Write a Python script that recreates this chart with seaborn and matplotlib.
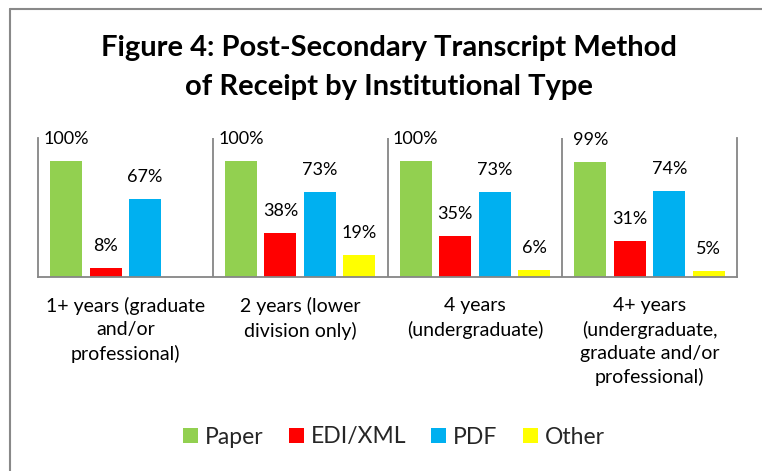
import numpy as np
import pandas as pd
import matplotlib
matplotlib.use("Agg")
import matplotlib.pyplot as plt
from matplotlib.lines import Line2D
import seaborn as sns

categories = ["1+ years (graduate\nand/or\nprofessional)",
              "2 years (lower\ndivision only)",
              "4 years\n(undergraduate)",
              "4+ years\n(undergraduate,\ngraduate and/or\nprofessional)"]
methods = ["Paper", "EDI/XML", "PDF", "Other"]
paper = [100, 100, 100, 99]
edi = [8, 38, 35, 31]
pdf = [67, 73, 73, 74]
other = [np.nan, 19, 6, 5]
colors = ["#92D050", "#FF0000", "#00B0F0", "#FFFF00"]

series = [paper, edi, pdf, other]
rows = []
for m, vals in zip(methods, series):
    for c, v in zip(categories, vals):
        rows.append({"Type": c, "Method": m, "Value": v})
df = pd.DataFrame(rows)

sns.set_style("white")
plt.rcParams["font.family"] = ["Lato", "DejaVu Sans"]

W, H = 762, 471
fig = plt.figure(figsize=(W / 100, H / 100), dpi=100)
ax = fig.add_axes([38 / W, (H - 277) / H, (737 - 38) / W, (277 - 138) / H])

sns.barplot(data=df, x="Type", y="Value", hue="Method", order=categories,
            hue_order=methods, palette=colors, width=0.904, gap=0.19,
            saturation=1, ax=ax, legend=True, edgecolor="none")

ax.set_ylim(0, 120)
ax.set_xlim(-0.5, 3.5)
ax.set_yticks([])
ax.set_xlabel("")
ax.set_ylabel("")
gray = "#868686"
for s in ["left", "right", "bottom"]:
    ax.spines[s].set_visible(True)
    ax.spines[s].set_color(gray)
    ax.spines[s].set_linewidth(1.3)
ax.spines["top"].set_visible(False)
for xv in [0.5, 1.5, 2.5]:
    ax.axvline(xv, color=gray, lw=1.3)
ax.tick_params(axis="x", length=0, pad=14.5, labelsize=14)
for t in ax.get_xticklabels():
    t.set_linespacing(1.43)
    t.set_color("#000000")

for cont in ax.containers:
    for bar in cont:
        h = bar.get_height()
        if np.isnan(h):
            continue
        ax.annotate(f"{int(round(h))}%", (bar.get_x() + bar.get_width() / 2, h),
                    xytext=(0, 16), textcoords="offset points",
                    ha="center", va="center", fontsize=13, color="#000000",
                    annotation_clip=False)

handles, labels = ax.get_legend_handles_labels()
ax.get_legend().remove()
fig.legend(handles, labels, loc="center", bbox_to_anchor=(394 / W, 1 - 437 / H),
           ncol=4, frameon=False, fontsize=16.5, handlelength=0.65,
           handleheight=0.65, handletextpad=0.3, columnspacing=1.1)

fig.text(388.5 / W, 1 - 67.5 / H,
         "Figure 4: Post-Secondary Transcript Method\nof Receipt by Institutional Type",
         ha="center", va="center", fontsize=21, fontweight="bold",
         linespacing=1.6, color="#000000")

fig.add_artist(Line2D([10 / W, 10 / W], [0, 1 - 9 / H], transform=fig.transFigure,
                      color="#898989", lw=1.5))
fig.add_artist(Line2D([10 / W, 1], [1 - 9 / H, 1 - 9 / H], transform=fig.transFigure,
                      color="#898989", lw=1.5))

fig.savefig("out.png", dpi=100)
